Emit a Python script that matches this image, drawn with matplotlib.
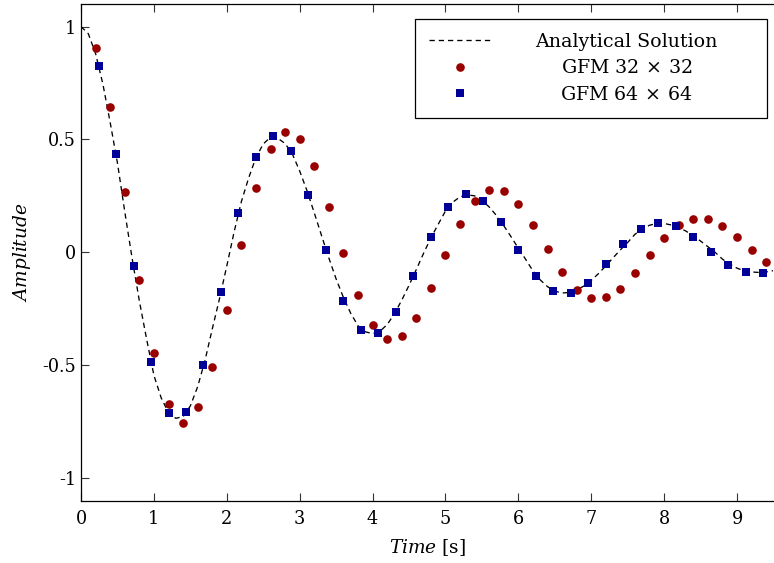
import numpy as np
import matplotlib
matplotlib.use("Agg")
import matplotlib.pyplot as plt
from matplotlib.transforms import Affine2D

plt.rcParams['font.family'] = ['DejaVu Serif']
plt.rcParams['mathtext.fontset'] = 'dejavuserif'
plt.rcParams['axes.unicode_minus'] = False

# analytical solution, every 0.1 s
t_exact = np.arange(0, 96) * 0.1
y_exact = [
    1.000, 0.968, 0.880, 0.745, 0.575, 0.395, 0.180, -0.025, -0.215, -0.385,
    -0.545, -0.645, -0.710, -0.735, -0.728, -0.680, -0.595, -0.480, -0.340, -0.205,
    -0.060, 0.090, 0.225, 0.330, 0.420, 0.480, 0.510, 0.505, 0.482, 0.435,
    0.360, 0.273, 0.175, 0.074, -0.025, -0.118, -0.200, -0.270, -0.325, -0.352,
    -0.360, -0.350, -0.320, -0.272, -0.212, -0.146, -0.076, -0.004, 0.064, 0.124,
    0.183, 0.222, 0.246, 0.255, 0.250, 0.230, 0.201, 0.163, 0.118, 0.069,
    0.018, -0.031, -0.082, -0.122, -0.152, -0.172, -0.180, -0.178, -0.167, -0.149,
    -0.124, -0.094, -0.060, -0.024, 0.011, 0.044, 0.080, 0.104, 0.120, 0.128,
    0.128, 0.121, 0.110, 0.094, 0.073, 0.050, 0.025, 0.000, -0.030, -0.052,
    -0.070, -0.082, -0.087, -0.089, -0.087, -0.081,
]

# GFM 32x32 (dt = 0.2)
t_32 = np.arange(1, 48) * 0.2
y_32 = [
    0.904, 0.645, 0.267, -0.122, -0.447, -0.673, -0.755, -0.687, -0.509, -0.254,
    0.032, 0.283, 0.456, 0.532, 0.503, 0.382, 0.200, -0.004, -0.189, -0.323,
    -0.386, -0.372, -0.291, -0.159, -0.012, 0.127, 0.227, 0.277, 0.270, 0.214,
    0.121, 0.013, -0.088, -0.165, -0.204, -0.200, -0.161, -0.093, -0.013, 0.062,
    0.122, 0.149, 0.148, 0.118, 0.069, 0.010, -0.044,
]

# GFM 64x64 (dt = 0.24)
t_64 = np.arange(1, 40) * 0.24
y_64 = [
    0.827, 0.435, -0.061, -0.485, -0.712, -0.709, -0.501, -0.174, 0.176, 0.421,
    0.515, 0.447, 0.255, 0.009, -0.214, -0.344, -0.358, -0.265, -0.105, 0.069,
    0.200, 0.257, 0.227, 0.136, 0.012, -0.103, -0.171, -0.181, -0.134, -0.053,
    0.035, 0.103, 0.130, 0.116, 0.066, 0.003, -0.056, -0.088, -0.092,
]

fig = plt.figure(figsize=(7.74, 5.63), dpi=100)
ax = fig.add_axes([0.1047, 0.1107, 0.8946, 0.8822])

ax.plot(t_exact, y_exact, color='black', lw=0.95, linestyle=(0, (4, 3)),
        label='Analytical Solution', zorder=2)
ax.plot(t_32, y_32, linestyle='none', marker='o', ms=6.2, color='#990000',
        markeredgewidth=0, label=r'GFM 32$\,\times\,$32', zorder=3)
ax.plot(t_64, y_64, linestyle='none', marker='s', ms=5.6, color='#000099',
        markeredgewidth=0, label=r'GFM 64$\,\times\,$64', zorder=4)

ax.set_xlim(0, 9.5)
ax.set_ylim(-1.1, 1.1)
ax.set_xticks(np.arange(0, 10))
ax.set_yticks([-1, -0.5, 0, 0.5, 1])
ax.set_yticklabels(['-1', '-0.5', '0', '0.5', '1'])
ax.tick_params(direction='in', length=5.5, width=0.8, labelsize=12.7,
               top=True, right=False, color='#333333')
ax.tick_params(axis='x', pad=7)
ax.tick_params(axis='y', pad=3.5)
ax.spines['right'].set_visible(False)
for s in ax.spines.values():
    s.set_linewidth(0.9)

ax.set_xlabel(r'$Time$ [s]', fontsize=13.3, labelpad=6.5)
ax.set_ylabel(r'$Amplitude$', fontsize=13.3, labelpad=7)

leg = ax.legend(loc='upper right', bbox_to_anchor=(0.4822, 0.5, 0.5083, 0.4698),
                mode='expand', borderaxespad=0, fontsize=13.7, numpoints=1,
                fancybox=False, framealpha=1, edgecolor='black',
                handlelength=3.3, handletextpad=2.3, labelspacing=0.45,
                borderpad=0.72)
leg.get_frame().set_linewidth(0.9)

# centre the legend labels in their column
fig.canvas.draw()
texts = leg.get_texts()
widths = [t.get_window_extent().width for t in texts]
wmax = max(widths)
for t, w in zip(texts, widths):
    t.set_transform(t.get_transform() + Affine2D().translate((wmax - w) / 2, 0))

fig.savefig('out.png', dpi=100)
